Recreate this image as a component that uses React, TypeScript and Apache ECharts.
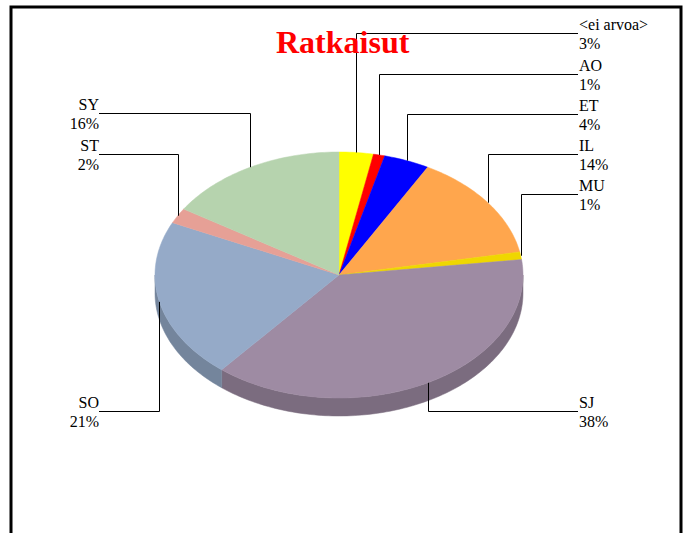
import React, { useEffect, useRef } from "react";
import * as echarts from "echarts";

const CATEGORIES = ["<ei arvoa>", "AO", "ET", "IL", "MU", "SJ", "SO", "ST", "SY"];
const VALUES = [3, 1, 4, 14, 1, 38, 21, 2, 16];
const COLORS = ["#FFFF00", "#FF0000", "#0000FF", "#FFA64D", "#EFD700", "#9E8BA3", "#95AAC8", "#E6A096", "#B6D3AE"];

// layout of the labels (not data)
const LABEL_SIDE = ["r", "r", "r", "r", "r", "r", "l", "l", "l"];
const LABEL_Y = [33, 74, 114, 154, 194, 411, 411, 154, 113];

const CX = 339;
const CY = 275;
const RX = 184;
const RY = 123;
const DEPTH = 18;
const RIGHT_X = 578;
const LEFT_X = 99;
const SERIF = "Liberation Serif";

function darken(hex: string, f: number) {
  const n = parseInt(hex.slice(1), 16);
  const r = Math.round(((n >> 16) & 255) * f);
  const g = Math.round(((n >> 8) & 255) * f);
  const b = Math.round((n & 255) * f);
  return `rgb(${r},${g},${b})`;
}

function pt(t: number, dy = 0): number[] {
  return [CX + RX * Math.sin(t), CY - RY * Math.cos(t) + dy];
}

export default function App() {
  const ref = useRef<HTMLDivElement>(null);
  useEffect(() => {
    if (!ref.current) return;
    const chart = echarts.init(ref.current, null, { renderer: "svg" });
    const total = VALUES.reduce((a, b) => a + b, 0);
    const cum: number[] = [];
    let acc = 0;
    VALUES.forEach((v) => {
      cum.push(acc);
      acc += v;
    });

    const renderItem = (params: any, api: any) => {
      const i = params.dataIndex;
      const v = api.value(0);
      const t0 = (cum[i] / total) * Math.PI * 2;
      const t1 = ((cum[i] + v) / total) * Math.PI * 2;
      const color = COLORS[i];
      const children: any[] = [];

      // side wall (front half only)
      const a = Math.max(t0, Math.PI / 2);
      const b = Math.min(t1, (Math.PI * 3) / 2);
      if (b > a) {
        const n = Math.max(2, Math.ceil((b - a) / 0.02));
        const top: number[][] = [];
        const bot: number[][] = [];
        for (let k = 0; k <= n; k++) {
          const t = a + ((b - a) * k) / n;
          top.push(pt(t));
          bot.push(pt(t, DEPTH));
        }
        children.push({
          type: "polygon",
          z2: 1,
          shape: { points: top.concat(bot.reverse()) },
          style: { fill: darken(color, 0.78), stroke: darken(color, 0.78), lineWidth: 0.5 },
        });
      }

      // top face
      const n = Math.max(2, Math.ceil((t1 - t0) / 0.02));
      const pts: number[][] = [[CX, CY]];
      for (let k = 0; k <= n; k++) {
        pts.push(pt(t0 + ((t1 - t0) * k) / n));
      }
      children.push({
        type: "polygon",
        z2: 5,
        shape: { points: pts },
        style: { fill: color, stroke: color, lineWidth: 0.5 },
      });

      // leader line
      const tm = (t0 + t1) / 2;
      const an = pt(tm);
      const ly = LABEL_Y[i] + 0.5;
      const ax = Math.round(an[0]) + 0.5;
      const lx = LABEL_SIDE[i] === "r" ? RIGHT_X : LEFT_X;
      children.push({
        type: "polyline",
        z2: 10,
        shape: { points: [[ax, an[1]], [ax, ly], [lx, ly]] },
        style: { stroke: "#000", fill: null, lineWidth: 1 },
      });

      return { type: "group", children };
    };

    // label texts (names and percentages from data)
    const labelTexts: any[] = [];
    VALUES.forEach((v, i) => {
      const right = LABEL_SIDE[i] === "r";
      const align = right ? "left" : "right";
      const tx = right ? RIGHT_X + 1 : LEFT_X;
      const pct = Math.round((v / total) * 100) + "%";
      [
        [CATEGORIES[i], LABEL_Y[i] - 9],
        [pct, LABEL_Y[i] + 10],
      ].forEach(([txt, y]) => {
        labelTexts.push({
          type: "text",
          z: 10,
          x: tx,
          y: y as number,
          style: {
            text: txt as string,
            fill: "#000",
            font: "16px " + SERIF,
            align,
            verticalAlign: "middle",
          },
        });
      });
    });

    chart.setOption({
      animation: false,
      backgroundColor: "#ffffff",
      textStyle: { fontFamily: SERIF },
      title: {
        text: "Ratkaisut",
        left: 276,
        top: 26,
        padding: 0,
        textStyle: {
          color: "#FF0000",
          fontFamily: SERIF,
          fontWeight: "bold",
          fontSize: 32,
        },
      },
      graphic: [
        {
          type: "rect",
          shape: { x: 11, y: 7, width: 670, height: 600 },
          style: { fill: "none", stroke: "#000", lineWidth: 3 },
          z: 0,
        },
        ...labelTexts,
      ],
      series: [
        {
          type: "custom",
          coordinateSystem: "none",
          renderItem,
          data: VALUES.map((v, i) => ({ name: CATEGORIES[i], value: [v] })),
          silent: true,
        },
      ],
    });
    return () => chart.dispose();
  }, []);
  return (
    <div
      ref={ref}
      style={{ position: "absolute", left: 0, top: 0, width: 690, height: 533, background: "#fff" }}
    />
  );
}
